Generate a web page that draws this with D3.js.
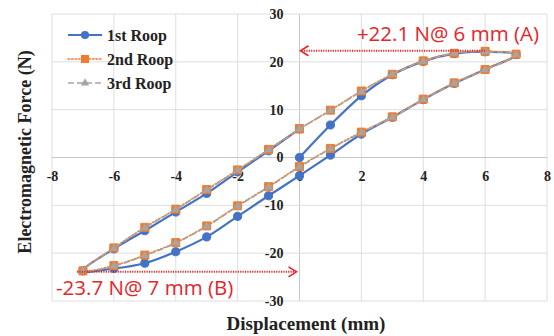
<!DOCTYPE html>
<html>
<head>
<meta charset="utf-8">
<script src="https://cdn.jsdelivr.net/npm/d3@7"></script>
<style>
  body { margin: 0; background: #fff; }
  svg { display: block; }
</style>
</head>
<body>
<svg id="chart" width="554" height="336"></svg>
<script>
// displacement path: start at 0, out to +7, back to -7, up again to 0
var displacement = [0, 1, 2, 3, 4, 5, 6, 7,
    6, 5, 4, 3, 2, 1, 0, -1, -2, -3, -4, -5, -6, -7,
    -6, -5, -4, -3, -2, -1, 0];

var roop1 = [0.0, 6.8, 12.9, 17.3, 20.1, 21.7, 22.1, 21.5,
    18.4, 15.5, 12.1, 8.4, 4.9, 0.5, -3.8, -8.0, -12.3, -16.6, -19.7, -22.1, -23.2, -23.7,
    -19.1, -15.3, -11.4, -7.5, -3.0, 1.4, 6.0];

var roop2 = [6.0, 9.9, 13.9, 17.4, 20.2, 21.8, 22.2, 21.6,
    18.4, 15.6, 12.2, 8.5, 5.3, 1.9, -1.9, -6.1, -10.1, -14.3, -17.8, -20.4, -22.6, -23.7,
    -18.9, -14.6, -10.8, -6.7, -2.6, 1.7, 6.0];

var roop3 = [6.0, 9.8, 13.8, 17.4, 20.1, 21.8, 22.1, 21.5,
    18.3, 15.5, 12.1, 8.4, 5.2, 1.8, -2.0, -6.2, -10.2, -14.4, -17.9, -20.5, -22.7, -23.7,
    -19.0, -14.7, -10.9, -6.8, -2.7, 1.6, 6.0];

var seriesNames = ['1st Roop', '2nd Roop', '3rd Roop'];

var xTicks = [-8, -6, -4, -2, 0, 2, 4, 6, 8];
var yTicks = [-30, -20, -10, 0, 10, 20, 30];

var noteA = '+22.1 N@ 6 mm (A)';
var noteB = '-23.7 N@ 7 mm (B)';
var peakA = [6, 22.1];
var peakB = [-7, -23.7];

var svg = d3.select('#chart');

var x = d3.scaleLinear().domain([-8, 8]).range([52, 547]);
var y = d3.scaleLinear().domain([-30, 30]).range([301, 14]);

var serif = '"Liberation Serif", "Times New Roman", serif';
var sans = '"Open Sans", "Liberation Sans", sans-serif';
var red = '#e3262b';

// gridlines
svg.append('g')
    .selectAll('line')
    .data(xTicks)
    .enter()
    .append('line')
    .attr('x1', function(d) { return x(d); })
    .attr('x2', function(d) { return x(d); })
    .attr('y1', y(30))
    .attr('y2', y(-30))
    .attr('stroke', function(d) { return d === 0 ? '#c8c8c8' : '#dedede'; })
    .attr('stroke-width', 1);

svg.append('g')
    .selectAll('line')
    .data(yTicks)
    .enter()
    .append('line')
    .attr('x1', x(-8))
    .attr('x2', x(8))
    .attr('y1', function(d) { return y(d); })
    .attr('y2', function(d) { return y(d); })
    .attr('stroke', function(d) { return d === 0 ? '#c8c8c8' : '#dedede'; })
    .attr('stroke-width', 1);

// tick labels sit along the axes that cross at zero
var xAxis = d3.axisBottom(x).tickValues(xTicks).tickSize(0).tickPadding(14)
    .tickFormat(function(d) { return d; });
var gx = svg.append('g')
    .attr('transform', 'translate(0,' + y(0) + ')')
    .call(xAxis);
gx.select('.domain').remove();
gx.selectAll('text')
    .style('font-family', serif)
    .style('font-weight', 'bold')
    .style('font-size', '14px')
    .attr('fill', '#222');

var yAxis = d3.axisLeft(y).tickValues(yTicks).tickSize(0).tickPadding(16)
    .tickFormat(function(d) { return d; });
var gy = svg.append('g')
    .attr('transform', 'translate(' + x(0) + ',0)')
    .call(yAxis);
gy.select('.domain').remove();
gy.selectAll('text')
    .style('font-family', serif)
    .style('font-weight', 'bold')
    .style('font-size', '14px')
    .attr('fill', '#222');

// axis titles
svg.append('text')
    .attr('x', 306)
    .attr('y', 330)
    .attr('text-anchor', 'middle')
    .style('font-family', serif)
    .style('font-weight', 'bold')
    .style('font-size', '19px')
    .attr('fill', '#222')
    .text('Displacement (mm)');

svg.append('text')
    .attr('transform', 'translate(31,152) rotate(-90)')
    .attr('text-anchor', 'middle')
    .style('font-family', serif)
    .style('font-weight', 'bold')
    .style('font-size', '18px')
    .attr('fill', '#222')
    .text('Electromagnetic Force (N)');

// series
var styles = [
    { color: '#4472c4', width: 2.2, dash: null, marker: 'circle' },
    { color: '#ed7d31', width: 1.6, dash: '1.5,2', marker: 'square' },
    { color: '#a5a5a5', width: 1.6, dash: '6,3', marker: 'triangle' }
];
var allSeries = [roop1, roop2, roop3];

var line = d3.line()
    .x(function(d) { return x(d[0]); })
    .y(function(d) { return y(d[1]); })
    .curve(d3.curveCatmullRom.alpha(0.5));

var symbolFor = function(kind, size) {
    if (kind === 'circle') return d3.symbol().type(d3.symbolCircle).size(size || 52)();
    if (kind === 'square') return d3.symbol().type(d3.symbolSquare).size(size || 64)();
    return d3.symbol().type(d3.symbolTriangle).size(size || 30)();
};

allSeries.forEach(function(vals, s) {
    var pts = vals.map(function(v, i) { return [displacement[i], v]; });
    var st = styles[s];
    svg.append('path')
        .datum(pts)
        .attr('d', line)
        .attr('fill', 'none')
        .attr('stroke', st.color)
        .attr('stroke-width', st.width)
        .attr('stroke-dasharray', st.dash)
        .attr('stroke-linecap', s === 1 ? 'round' : 'butt');
    svg.append('g')
        .selectAll('path')
        .data(pts)
        .enter()
        .append('path')
        .attr('transform', function(d) { return 'translate(' + x(d[0]) + ',' + y(d[1]) + ')'; })
        .attr('d', symbolFor(st.marker))
        .attr('fill', st.color)
        .attr('stroke', st.marker === 'triangle' ? 'none' : st.color)
        .attr('stroke-width', 1);
});

// legend
var legend = svg.append('g');
seriesNames.forEach(function(name, s) {
    var ly = 35 + s * 24;
    var st = styles[s];
    legend.append('line')
        .attr('x1', 68)
        .attr('x2', 102)
        .attr('y1', ly)
        .attr('y2', ly)
        .attr('stroke', st.color)
        .attr('stroke-width', st.width)
        .attr('stroke-dasharray', st.dash)
        .attr('stroke-linecap', s === 1 ? 'round' : 'butt');
    legend.append('path')
        .attr('transform', 'translate(85,' + ly + ')')
        .attr('d', symbolFor(st.marker))
        .attr('fill', st.color)
        .attr('stroke', 'none');
    legend.append('text')
        .attr('x', 107)
        .attr('y', ly + 5.5)
        .style('font-family', serif)
        .style('font-weight', 'bold')
        .style('font-size', '16px')
        .attr('fill', '#222')
        .text(name);
});

// annotations with dotted red arrows
var arrowHead = function(tipX, tipY, dir) {
    var len = 8, half = 5;
    return 'M ' + (tipX - dir * len) + ' ' + (tipY - half) +
        ' L ' + tipX + ' ' + tipY +
        ' L ' + (tipX - dir * len) + ' ' + (tipY + half);
};

var drawArrow = function(fromX, toX, yy) {
    var dir = toX > fromX ? 1 : -1;
    svg.append('line')
        .attr('x1', fromX)
        .attr('x2', toX - dir * 1)
        .attr('y1', yy)
        .attr('y2', yy)
        .attr('stroke', red)
        .attr('stroke-width', 2)
        .attr('stroke-dasharray', '1.2,1.2');
    svg.append('path')
        .attr('d', arrowHead(toX, yy, dir))
        .attr('fill', 'none')
        .attr('stroke', red)
        .attr('stroke-width', 1.6);
};

drawArrow(x(peakA[0]), x(0) + 1, y(peakA[1]) - 1);
drawArrow(x(peakB[0]) - 6, x(0) - 3, y(peakB[1]) + 1);

svg.append('text')
    .attr('x', 539)
    .attr('y', 41)
    .attr('text-anchor', 'end')
    .style('font-family', sans)
    .style('font-size', '20.5px')
    .attr('fill', red)
    .text(noteA);

svg.append('text')
    .attr('x', 56)
    .attr('y', 295)
    .style('font-family', sans)
    .style('font-size', '20.5px')
    .attr('fill', red)
    .text(noteB);
</script>
</body>
</html>
